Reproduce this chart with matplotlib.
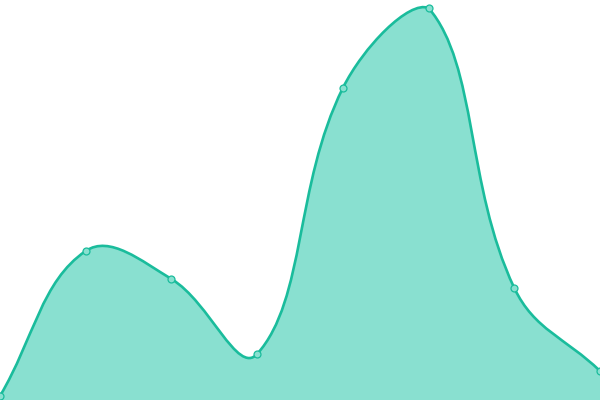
import matplotlib
matplotlib.use('Agg')
import matplotlib.pyplot as plt
import numpy as np
from matplotlib.path import Path
from matplotlib.patches import PathPatch

# dati (scala 0-100)
etichette = ['1', '2', '3', '4', '5', '6', '7', '8']
valori = [1, 37.25, 30.25, 11.5, 78, 98, 28, 7.25]

colore_linea = '#1abc9c'
colore_area = '#89e0d0'

W, H = 600, 400
ymax = 100
n = len(valori)

# coordinate in pixel per calcolare la spline (tensione 0.4 stile chart.js)
px = np.array([i * W / (n - 1) for i in range(n)])
py = np.array([v * H / ymax for v in valori])
pts = np.column_stack([px, py])
t = 0.4

cps = []
for i in range(n):
    cur = pts[i]
    prev = pts[i - 1] if i > 0 else cur
    nxt = pts[i + 1] if i < n - 1 else cur
    d01 = np.hypot(*(cur - prev))
    d12 = np.hypot(*(nxt - cur))
    tot = d01 + d12
    s01 = d01 / tot if tot else 0
    s12 = d12 / tot if tot else 0
    c_prev = cur - t * s01 * (nxt - prev)
    c_next = cur + t * s12 * (nxt - prev)
    c_prev[1] = np.clip(c_prev[1], 0, H)
    c_next[1] = np.clip(c_next[1], 0, H)
    cps.append((c_prev, c_next))

verts = [tuple(pts[0])]
codes = [Path.MOVETO]
for i in range(n - 1):
    verts += [tuple(cps[i][1]), tuple(cps[i + 1][0]), tuple(pts[i + 1])]
    codes += [Path.CURVE4] * 3

fig = plt.figure(figsize=(6, 4), dpi=100)
ax = fig.add_axes([0, 0, 1, 1])
ax.set_xlim(0, W)
ax.set_ylim(0, H)
ax.axis('off')

area_v = verts + [(W, 0), (0, 0), verts[0]]
area_c = codes + [Path.LINETO, Path.LINETO, Path.CLOSEPOLY]
ax.add_patch(PathPatch(Path(area_v, area_c), facecolor=colore_area, edgecolor='none'))
ax.add_patch(PathPatch(Path(verts, codes), facecolor='none', edgecolor=colore_linea, linewidth=1.9))
ax.plot(px, py, 'o', markersize=5, markerfacecolor=colore_area,
        markeredgecolor=colore_linea, markeredgewidth=0.9, clip_on=False)

fig.savefig('out.png', dpi=100)
